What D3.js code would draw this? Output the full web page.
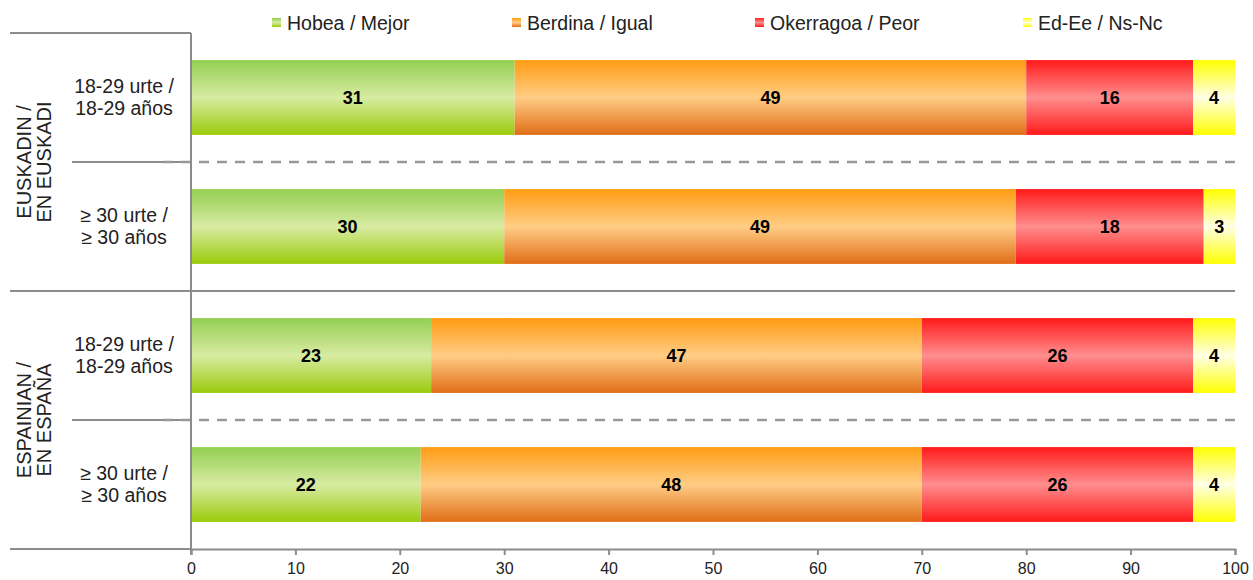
<!DOCTYPE html>
<html>
<head>
<meta charset="utf-8">
<script src="https://cdn.jsdelivr.net/npm/d3@7"></script>
<style>
body{margin:0;background:#fff;}
text{font-family:"Liberation Sans",Arial,sans-serif;}
</style>
</head>
<body>
<svg id="c" width="1253" height="580"></svg>
<script>
const rows = ["r1","r2","r3","r4"];
const rowLabels = [["18-29 urte /","18-29 años"],["≥ 30 urte /","≥ 30 años"],["18-29 urte /","18-29 años"],["≥ 30 urte /","≥ 30 años"]];
const groupLabels = [["EUSKADIN /","EN EUSKADI"],["ESPAINIAN /","EN ESPAÑA"]];
const seriesNames = ["Hobea / Mejor","Berdina / Igual","Okerragoa / Peor","Ed-Ee / Ns-Nc"];
const hobea = [31,30,23,22];
const berdina = [49,49,47,48];
const okerragoa = [16,18,26,26];
const eded = [4,3,4,4];
const xTicks = [0,10,20,30,40,50,60,70,80,90,100];

const gradStops = [
  ["#93cf52","#d8eba2","#9acb0c"],
  ["#ff9c12","#ffcd85","#e06e18"],
  ["#ff1a1a","#ff8e8e","#ff1a1a"],
  ["#ffff00","#ffffe6","#ffff00"]
];

const svg = d3.select("#c");
const defs = svg.append("defs");
gradStops.forEach((s,i)=>{
  const g = defs.append("linearGradient").attr("id","g"+i).attr("x1",0).attr("y1",0).attr("x2",0).attr("y2",1);
  g.append("stop").attr("offset","0%").attr("stop-color",s[0]);
  g.append("stop").attr("offset","50%").attr("stop-color",s[1]);
  g.append("stop").attr("offset","100%").attr("stop-color",s[2]);
});

const x = d3.scaleLinear().domain([0,100]).range([191,1235]);
const y = d3.scaleBand().domain(rows).range([33,549]).paddingInner(0.42).paddingOuter(0.21);
const step = y.step();

const data = rows.map((r,i)=>({row:r, vals:[hobea[i],berdina[i],okerragoa[i],eded[i]]}));
const stackData = rows.map((r,i)=>{ const o={row:r}; seriesNames.forEach((s,j)=>o[s]=data[i].vals[j]); return o;});
const stacked = d3.stack().keys(seriesNames)(stackData);

const gridCol = "#8c8c8c";
const L = svg.append("g").attr("stroke",gridCol).attr("stroke-width",2);
const yTop = y.range()[0], yBot = y.range()[1];
L.append("line").attr("x1",10).attr("x2",x(0)).attr("y1",yTop).attr("y2",yTop);
const yMid = yTop + 2*step;
L.append("line").attr("x1",10).attr("x2",x(100)).attr("y1",yMid).attr("y2",yMid);
L.append("line").attr("x1",10).attr("x2",x(0)).attr("y1",yBot).attr("y2",yBot);
[1,3].forEach(k=>{
  const yy = yTop + k*step;
  L.append("line").attr("x1",72).attr("x2",x(0)).attr("y1",yy).attr("y2",yy);
  svg.append("line").attr("x1",163).attr("x2",x(100)).attr("y1",yy).attr("y2",yy)
    .attr("stroke","#999").attr("stroke-width",2.5).attr("stroke-dasharray","10,8");
});

stacked.forEach((layer,j)=>{
  svg.append("g").selectAll("rect").data(layer).join("rect")
    .attr("x",d=>x(d[0])).attr("width",d=>x(d[1])-x(d[0]))
    .attr("y",d=>y(d.data.row)).attr("height",y.bandwidth())
    .attr("fill","url(#g"+j+")");
  svg.append("g").selectAll("text").data(layer).join("text")
    .attr("x",d=>(x(d[0])+x(d[1]))/2).attr("y",d=>y(d.data.row)+y.bandwidth()/2)
    .attr("dy","0.35em").attr("text-anchor","middle")
    .attr("font-size",18).attr("font-weight","bold").attr("fill","#000")
    .text(d=>d[1]-d[0]);
});

svg.append("line").attr("x1",x(0)).attr("x2",x(0)).attr("y1",yTop).attr("y2",yBot+5).attr("stroke",gridCol).attr("stroke-width",2);

const ax = svg.append("g").attr("transform",`translate(0,${yBot})`)
  .call(d3.axisBottom(x).tickValues(xTicks).tickSize(6).tickSizeOuter(6).tickPadding(8));
ax.select(".domain").attr("stroke",gridCol).attr("stroke-width",2);
ax.selectAll(".tick line").attr("stroke",gridCol).attr("stroke-width",2);
ax.selectAll(".tick text").attr("font-size",16).attr("fill","#222").attr("font-family","Liberation Sans, Arial, sans-serif");

rows.forEach((r,i)=>{
  const cy = y(r)+y.bandwidth()/2;
  const t = svg.append("text").attr("text-anchor","middle").attr("font-size",19.5).attr("fill","#222");
  t.append("tspan").attr("x",124).attr("y",cy-11).attr("dy","0.35em").text(rowLabels[i][0]);
  t.append("tspan").attr("x",124).attr("y",cy+11).attr("dy","0.35em").text(rowLabels[i][1]);
});

groupLabels.forEach((g,i)=>{
  const cy = yTop + (2*i+1)*step;
  const t = svg.append("text").attr("text-anchor","middle").attr("font-size",20).attr("fill","#222")
    .attr("transform",`translate(34,${cy}) rotate(-90)`);
  t.append("tspan").attr("x",0).attr("y",-10).attr("dy","0.35em").text(g[0]);
  t.append("tspan").attr("x",0).attr("y",10).attr("dy","0.35em").text(g[1]);
});

const legX = [272,512,755,1023];
seriesNames.forEach((s,i)=>{
  svg.append("rect").attr("x",legX[i]).attr("y",18).attr("width",9).attr("height",9).attr("fill","url(#g"+i+")");
  svg.append("text").attr("x",legX[i]+15).attr("y",23).attr("dy","0.35em").attr("font-size",19.5).attr("fill","#222").text(s);
});
</script>
</body>
</html>
